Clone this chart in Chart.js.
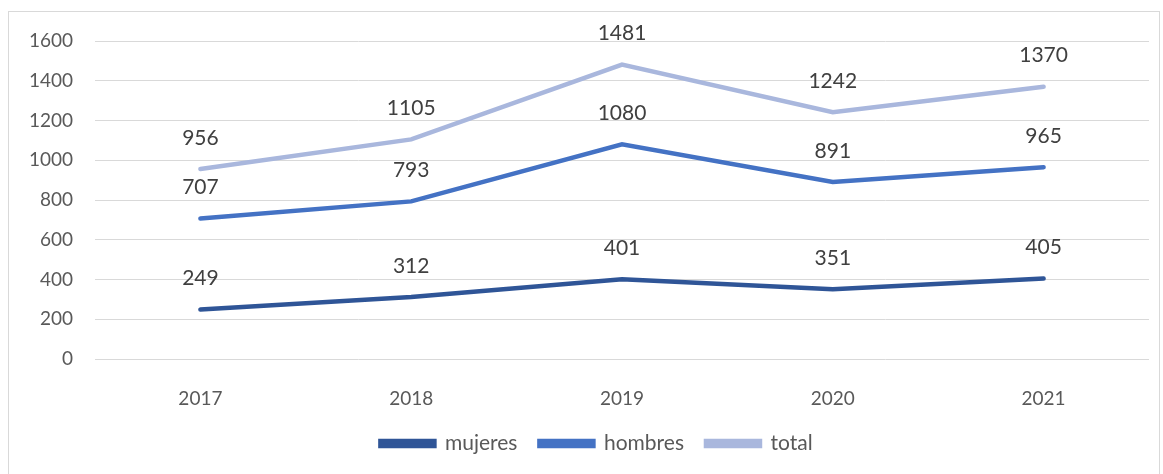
<!DOCTYPE html>
<html lang="es">
<head>
  <meta charset="UTF-8" />
  <title>Chart</title>
  <style>
    body { margin: 0; background: #fff; }
    .wrap { position: relative; width: 1163px; height: 474px; }
    .frame { position: absolute; left: 8px; top: 11px; width: 1152px; height: 470px; border: 1px solid #d9d9d9; box-sizing: border-box; }
    canvas { position: absolute; left: 0; top: 0; }
  </style>
</head>
<body>
  <div class="wrap">
    <div class="frame"></div>
    <canvas id="myChart" width="1163" height="474"></canvas>
  </div>

  <script src="https://cdn.jsdelivr.net/npm/chart.js"></script>
  <script>
    const years = ["2017", "2018", "2019", "2020", "2021"];
    const mujeres = [249, 312, 401, 351, 405];
    const hombres = [707, 793, 1080, 891, 965];
    const total = [956, 1105, 1481, 1242, 1370];
    const yTicks = [0, 200, 400, 600, 800, 1000, 1200, 1400, 1600];

    const font = "Lato";

    // etiquetas de valor encima de cada punto
    const valueLabels = {
      id: "valueLabels",
      beforeDraw(chart) {
        // centrar la leyenda un poco más a la derecha, como en el original
        if (chart.legend) chart.legend.left = 44;
      },
      afterDatasetsDraw(chart) {
        const ctx = chart.ctx;
        ctx.save();
        ctx.font = "21px " + font;
        ctx.fillStyle = "#404040";
        ctx.textAlign = "center";
        ctx.textBaseline = "middle";
        chart.data.datasets.forEach((ds, i) => {
          chart.getDatasetMeta(i).data.forEach((pt, j) => {
            ctx.fillText(ds.data[j], pt.x, pt.y - 31);
          });
        });
        ctx.restore();
      }
    };

    const mk = (label, data, color) => ({
      label: label,
      data: data,
      borderColor: color,
      backgroundColor: color,
      borderWidth: 4.5,
      pointRadius: 0,
      tension: 0,
      borderCapStyle: "round"
    });

    new Chart(document.getElementById("myChart"), {
      type: "line",
      data: {
        labels: years,
        datasets: [
          mk("mujeres", mujeres, "#2f5597"),
          mk("hombres", hombres, "#4472c4"),
          mk("total", total, "#a9b7dd")
        ]
      },
      options: {
        responsive: false,
        animation: false,
        layout: { padding: { top: 41, right: 14, left: 0, bottom: 10 } },
        plugins: {
          tooltip: { enabled: false },
          legend: {
            position: "bottom",
            labels: {
              font: { family: font, size: 21 },
              color: "#595959",
              boxWidth: 54,
              boxHeight: 5,
              padding: 22
            }
          }
        },
        scales: {
          x: {
            offset: true,
            grid: { display: false },
            border: { display: false },
            ticks: { font: { family: font, size: 19 }, color: "#595959", padding: 20 },
            afterFit: s => { s.height = 52; }
          },
          y: {
            min: 0,
            max: 1600,
            afterBuildTicks: s => { s.ticks = yTicks.map(v => ({ value: v })); },
            grid: { color: "#d9d9d9", lineWidth: 1, drawTicks: false },
            border: { display: false },
            ticks: {
              font: { family: font, size: 19 },
              color: "#595959",
              padding: 22,
              callback: v => String(v)
            },
            afterFit: s => { s.width = 95; }
          }
        }
      },
      plugins: [valueLabels]
    });
  </script>
</body>
</html>
